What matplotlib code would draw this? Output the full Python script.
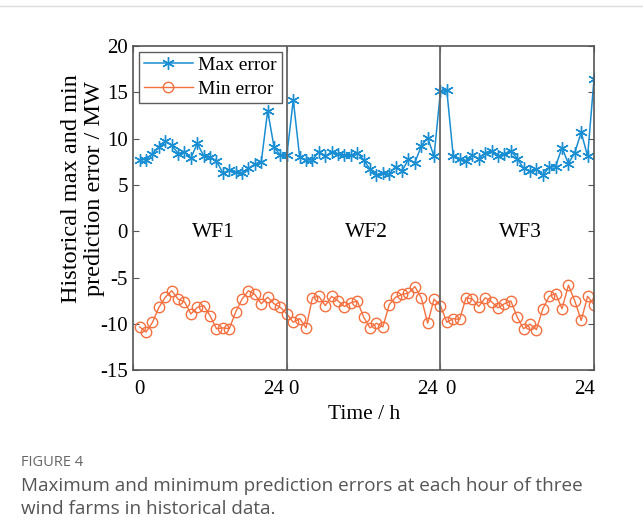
import matplotlib
matplotlib.use("Agg")
import matplotlib.pyplot as plt
from matplotlib.lines import Line2D

plt.rcParams['axes.unicode_minus'] = False

# ---- data ----
hours = list(range(1, 73))  # 3 wind farms x 24 hours, concatenated
max_error = [7.7, 7.75, 8.4, 9.1, 9.7, 9.3, 8.4, 8.6, 7.9, 9.5, 8.15, 8.0,
             7.6, 6.3, 6.6, 6.4, 6.25, 6.8, 7.25, 7.5, 13.0, 9.1, 8.2, 8.2,
             14.2, 8.0, 7.7, 7.7, 8.6, 8.1, 8.6, 8.3, 8.2, 8.2, 8.5, 7.7,
             6.7, 6.1, 6.3, 6.2, 7.0, 6.5, 7.8, 7.4, 9.2, 10.1, 8.1, 15.1,
             15.2, 8.1, 7.85, 7.6, 8.2, 7.85, 8.5, 8.7, 8.1, 8.4, 8.7, 7.85,
             6.8, 6.5, 6.7, 6.1, 6.9, 7.0, 9.05, 7.3, 8.5, 10.7, 8.1, 16.4]
min_error = [-10.3, -10.85, -9.8, -8.2, -7.1, -6.4, -7.3, -7.6, -8.9, -8.2, -8.0, -9.1,
             -10.5, -10.4, -10.5, -8.7, -7.3, -6.4, -6.8, -7.8, -7.1, -7.8, -8.2, -8.9,
             -9.8, -9.4, -10.4, -7.15, -7.0, -8.0, -7.0, -7.5, -8.1, -7.7, -7.5, -9.25,
             -10.4, -9.9, -10.3, -7.9, -7.1, -6.8, -6.65, -5.95, -7.15, -9.9, -7.3, -8.0,
             -9.8, -9.4, -9.5, -7.15, -7.3, -8.1, -7.15, -7.6, -8.25, -7.8, -7.5, -9.25,
             -10.5, -10.0, -10.6, -8.35, -7.0, -6.7, -8.35, -5.8, -7.5, -9.6, -7.0, -7.9]
farm_names = ["WF1", "WF2", "WF3"]
farm_centers = [12.5, 36.5, 60.5]
dividers = [24, 48]
y_ticks = [-15, -10, -5, 0, 5, 10, 15, 20]
x_tick_texts = ["0", "24", "0", "24", "0", "24"]
x_tick_pos = [1, 23.6, 25.1, 47.6, 49.6, 72.2]
x_tick_ha = ["center", "right", "center", "right", "center", "right"]
series_labels = ["Max error", "Min error"]
caption_label = "FIGURE 4"
caption_lines = ["Maximum and minimum prediction errors at each hour of three",
                 "wind farms in historical data."]

serif = "Liberation Serif"
blue = "#1a8ed2"
orange = "#f4703f"
frame = "#555555"

fig = plt.figure(figsize=(6.43, 5.31), dpi=100)
ax = fig.add_axes([0.2073, 0.3023, 0.7165, 0.6111])

ax.plot(hours, max_error, color=blue, lw=1.1, marker=(6, 2, 0), ms=9,
        mew=1.0, label=series_labels[0])
ax.plot(hours, min_error, color=orange, lw=1.0, marker='o', ms=7.5,
        mfc='none', mew=1.0, label=series_labels[1])

for d in dividers:
    ax.axvline(d, color="#666666", lw=1.3)

for name, c in zip(farm_names, farm_centers):
    ax.text(c, -0.1, name, ha='center', va='center', fontsize=15.5, family=serif)

ax.set_xlim(0, 72)
ax.set_ylim(-15, 20)
ax.set_yticks(y_ticks)
ax.set_yticklabels([str(v) for v in y_ticks], fontsize=15, family=serif)
ax.set_xticks([0, 24, 48, 72])
ax.set_xticklabels([])
for t, p, ha in zip(x_tick_texts, x_tick_pos, x_tick_ha):
    ax.text(p, -0.03, t, transform=ax.get_xaxis_transform(), ha=ha, va='top',
            fontsize=15, family=serif)

ax.tick_params(direction='in', top=True, right=True, length=4, width=0.8,
               color=frame, pad=4)
for s in ax.spines.values():
    s.set_color(frame)
    s.set_linewidth(1.2)

ax.set_xlabel("Time / h", fontsize=15.5, family=serif, labelpad=21)
ax.set_ylabel("Historical max and min\nprediction error / MW", fontsize=17.5,
              family=serif, linespacing=1.12)
ax.yaxis.set_label_coords(-0.062, 0.56)

leg = ax.legend(loc='upper left', prop={'family': serif, 'size': 14},
                frameon=True, fancybox=False, edgecolor='#333333',
                borderaxespad=0.3, handlelength=2.5, handletextpad=0.3,
                labelspacing=0.3, borderpad=0.25)
leg.get_frame().set_linewidth(1.0)

# top border line of figure panel
fig.add_artist(Line2D([0, 1], [1 - 6 / 531, 1 - 6 / 531], color="#dddddd", lw=1.0))

fig.text(21 / 643, 1 - 462 / 531, caption_label, fontsize=10.5, color="#666666",
         family="Open Sans", va='center', ha='left')
for i, line in enumerate(caption_lines):
    fig.text(21 / 643, 1 - (486 + 23 * i) / 531, line, fontsize=13.6,
             color="#555555", family="Open Sans", va='center', ha='left')

fig.savefig("out.png", dpi=100)
